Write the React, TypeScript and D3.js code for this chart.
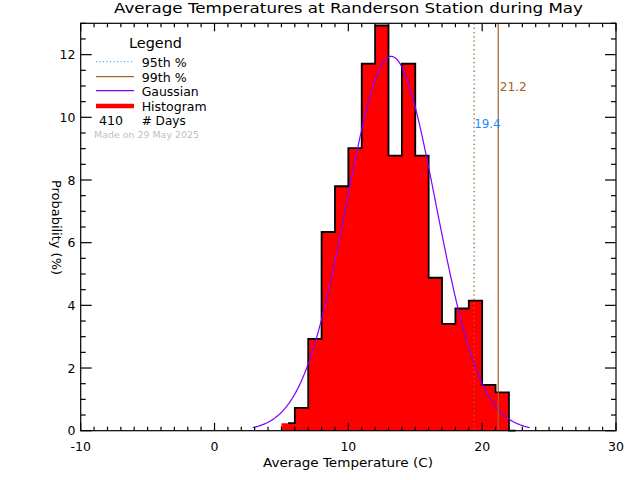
import React from "react";
import * as d3 from "d3";

// ---- data ----
const binLower: number[] = [5, 6, 7, 8, 9, 10, 11, 12, 13, 14, 15, 16, 17, 18, 19, 20, 21];
const probability: number[] = [0.24, 0.73, 2.93, 6.34, 7.8, 9.02, 11.71, 12.93, 8.78, 11.71, 8.78, 4.88, 3.41, 3.9, 4.15, 1.46, 1.22];
const binWidth = 1;
const nDays = 410;
const gaussMean = 13.2;
const gaussSigma = 3.34;
const gaussRange: [number, number] = [2.85, 23.55];
const p95 = 19.4;
const p99 = 21.2;
const xTickLabels: number[] = [-10, 0, 10, 20, 30];
const yTickLabels: number[] = [0, 2, 4, 6, 8, 10, 12];
const titleText = "Average Temperatures at Randerson Station during May";
const xLabelText = "Average Temperature (C)";
const yLabelText = "Probability  (%)";
const madeOnText = "Made on 29 May 2025";

const W = 640, H = 480;
const L = 80.7, R = 616, T = 23.3, B = 430.7;
const FONT = "'DejaVu Sans', 'Liberation Sans', sans-serif";
const BROWN = "#a0642d";
const BLUE = "#1e8cff";
const PURPLE = "#7f00ff";

export default function App() {
  React.useEffect(() => {
    document.body.style.margin = "0";
  }, []);
  const x = d3.scaleLinear().domain([-10, 30]).range([L, R]);
  const y = d3.scaleLinear().domain([0, 13]).range([B, T]);
  const lineGen = d3.line<[number, number]>().x((d) => x(d[0])).y((d) => y(d[1]));

  // filled histogram as one polygon
  const fillPts: [number, number][] = [[binLower[0], 0]];
  probability.forEach((p, i) => {
    fillPts.push([binLower[i], p]);
    fillPts.push([binLower[i] + binWidth, p]);
  });
  fillPts.push([binLower[binLower.length - 1] + binWidth, 0]);

  // outline (IDL psym=10 style): starts at first bin centre, ends with a drop at last edge
  const outlinePts: [number, number][] = [];
  outlinePts.push([binLower[0] + binWidth / 2, probability[0]]);
  probability.forEach((p, i) => {
    const x0 = binLower[i];
    const x1 = x0 + binWidth;
    if (i > 0) outlinePts.push([x0, p]);
    outlinePts.push([x1, p]);
    if (i < probability.length - 1) outlinePts.push([x1, probability[i + 1]]);
  });
  const lastEdge = binLower[binLower.length - 1] + binWidth;
  outlinePts.push([lastEdge, 0]);
  outlinePts.push([lastEdge + binWidth / 2, 0]);

  const amp = (100 * binWidth) / (gaussSigma * Math.sqrt(2 * Math.PI));
  const gx = d3.range(gaussRange[0], gaussRange[1] + 1e-9, 0.05);
  const gaussPts: [number, number][] = gx.map((v) => [v, amp * Math.exp(-((v - gaussMean) ** 2) / (2 * gaussSigma ** 2))]);

  const xMinor = d3.range(-10, 30.001, 1);
  const yMinor = d3.range(0, 13.001, 0.5);

  return (
    <svg width={W} height={H} style={{ position: "absolute", left: 0, top: 0, background: "#fff" }} fontFamily={FONT}>
      <rect x={0} y={0} width={W} height={H} fill="#fff" />
      <path d={(lineGen(fillPts) || "") + "Z"} fill="#ff0000" stroke="none" />
      <path d={lineGen(outlinePts) || ""} fill="none" stroke="#000" strokeWidth={1.8} />
      <path d={lineGen(gaussPts) || ""} fill="none" stroke={PURPLE} strokeWidth={1.2} />
      {/* percentile lines */}
      <line x1={x(p95)} x2={x(p95)} y1={T} y2={B} stroke={BROWN} strokeWidth={1.3} strokeDasharray="1.3,3" />
      <line x1={x(p99)} x2={x(p99)} y1={T} y2={B} stroke={BROWN} strokeWidth={1.2} />
      <text x={x(p95)} y={128.3} fill={BLUE} fontSize={12} textLength={26.5} lengthAdjust="spacingAndGlyphs">{p95.toFixed(1)}</text>
      <text x={x(p99) + 1.5} y={90.7} fill={BROWN} fontSize={12} textLength={27} lengthAdjust="spacingAndGlyphs">{p99.toFixed(1)}</text>

      {/* frame */}
      <rect x={L} y={T} width={R - L} height={B - T} fill="none" stroke="#000" strokeWidth={1.2} />
      {xMinor.map((v) => {
        const major = Math.abs(v % 10) < 1e-9;
        const len = major ? 8 : 4;
        return (
          <g key={"xt" + v}>
            <line x1={x(v)} x2={x(v)} y1={B} y2={B - len} stroke="#000" strokeWidth={1.2} />
            <line x1={x(v)} x2={x(v)} y1={T} y2={T + len} stroke="#000" strokeWidth={1.2} />
          </g>
        );
      })}
      {yMinor.map((v) => {
        const major = Math.abs(v % 2) < 1e-9;
        const len = major ? 11 : 5;
        return (
          <g key={"yt" + v}>
            <line x1={L} x2={L + len} y1={y(v)} y2={y(v)} stroke="#000" strokeWidth={1.2} />
            <line x1={R} x2={R - len} y1={y(v)} y2={y(v)} stroke="#000" strokeWidth={1.2} />
          </g>
        );
      })}
      {xTickLabels.map((v) => (
        <text key={"xl" + v} x={x(v)} y={450.7} fontSize={12.5} textAnchor="middle">{String(v)}</text>
      ))}
      {yTickLabels.map((v) => (
        <text key={"yl" + v} x={75.5} y={y(v) + 4.6} fontSize={12.5} textAnchor="end">{String(v)}</text>
      ))}

      {/* titles */}
      <text x={114} y={13.3} fontSize={14.5} textLength={469} lengthAdjust="spacingAndGlyphs">{titleText}</text>
      <text x={263} y={467} fontSize={12.5} textLength={170} lengthAdjust="spacingAndGlyphs">{xLabelText}</text>
      <text transform={`translate(51.5,180) rotate(90)`} fontSize={12.5} textLength={95} lengthAdjust="spacingAndGlyphs">{yLabelText}</text>

      {/* legend */}
      <text x={129} y={47.7} fontSize={14} textLength={53} lengthAdjust="spacingAndGlyphs">Legend</text>
      <line x1={96} x2={134} y1={61.7} y2={61.7} stroke={BLUE} strokeWidth={1} strokeDasharray="1,2.5" />
      <text x={141.7} y={66.7} fontSize={12.5} textLength={45} lengthAdjust="spacingAndGlyphs">95th %</text>
      <line x1={96} x2={134} y1={76.7} y2={76.7} stroke={BROWN} strokeWidth={1.2} />
      <text x={141.7} y={81.7} fontSize={12.5} textLength={45} lengthAdjust="spacingAndGlyphs">99th %</text>
      <line x1={96} x2={134} y1={90.7} y2={90.7} stroke={PURPLE} strokeWidth={1.2} />
      <text x={141.7} y={96} fontSize={12.5} textLength={57} lengthAdjust="spacingAndGlyphs">Gaussian</text>
      <line x1={96} x2={134} y1={106} y2={106} stroke="#ff0000" strokeWidth={4.5} />
      <text x={141.7} y={111} fontSize={12.5} textLength={65} lengthAdjust="spacingAndGlyphs">Histogram</text>
      <text x={99} y={125.3} fontSize={12.5} textLength={24} lengthAdjust="spacingAndGlyphs">{String(nDays)}</text>
      <text x={141.7} y={125.3} fontSize={12.5} textLength={44} lengthAdjust="spacingAndGlyphs"># Days</text>
      <text x={94} y={138.3} fontSize={8.5} fill="#c0c0c0" textLength={105} lengthAdjust="spacingAndGlyphs">{madeOnText}</text>
    </svg>
  );
}
